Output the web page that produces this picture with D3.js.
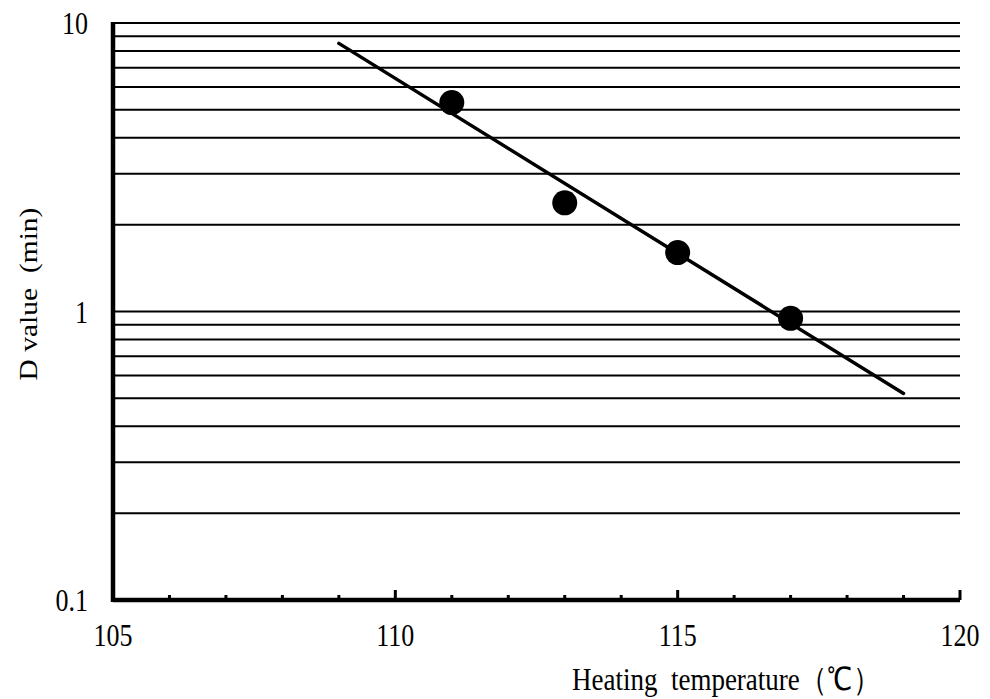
<!DOCTYPE html>
<html>
<head>
<meta charset="utf-8">
<script src="https://cdn.jsdelivr.net/npm/d3@7"></script>
<style>
  body { margin: 0; background: #fff; }
  text { font-family: "Liberation Serif", "Times New Roman", serif; fill: #000; }
</style>
</head>
<body>
<svg id="chart"></svg>
<script>
// 数据：加热温度 与 D 值
var temps = [111, 113, 115, 117];
var dValues = [5.3, 2.38, 1.6, 0.947];
// 回归直线两端
var fitTemps = [109, 119];
var fitValues = [8.5, 0.52];
// 坐标轴刻度
var xLabels = [105, 110, 115, 120];
var yLabels = [0.1, 1, 10];

var width = 990, height = 699;
var margin = { left: 113, right: 30, top: 23, bottom: 99 };
var stretch = 1.18; // 原图文字竖向略拉长

var svg = d3.select("#chart")
    .attr("width", width)
    .attr("height", height);

var x = d3.scaleLinear()
    .domain([105, 120])
    .range([margin.left, width - margin.right]);

var y = d3.scaleLog()
    .domain([0.1, 10])
    .range([height - margin.bottom, margin.top]);

// 水平网格线
svg.append("g")
  .selectAll("line")
  .data(y.ticks().filter(function(d) { return d > 0.1; }))
  .enter().append("line")
  .attr("x1", x(105))
  .attr("x2", x(120))
  .attr("y1", function(d) { return y(d); })
  .attr("y2", function(d) { return y(d); })
  .attr("stroke", "#000")
  .attr("stroke-width", 2);

// x 轴刻度（每 1℃ 一个小刻度，每 5℃ 一个大刻度）
svg.append("g")
  .selectAll("line")
  .data(d3.range(106, 121))
  .enter().append("line")
  .attr("x1", function(d) { return x(d); })
  .attr("x2", function(d) { return x(d); })
  .attr("y1", y(0.1))
  .attr("y2", function(d) { return y(0.1) - (d % 5 === 0 ? 10 : 5); })
  .attr("stroke", "#000")
  .attr("stroke-width", 3);

// 坐标轴线
svg.append("line")
  .attr("x1", x(105)).attr("x2", x(120))
  .attr("y1", y(0.1)).attr("y2", y(0.1))
  .attr("stroke", "#000").attr("stroke-width", 4.5);

svg.append("line")
  .attr("x1", x(105)).attr("x2", x(105))
  .attr("y1", y(0.1) + 2).attr("y2", y(10) - 1)
  .attr("stroke", "#000").attr("stroke-width", 4.5);

// 刻度标签
svg.append("g")
  .selectAll("text")
  .data(yLabels)
  .enter().append("text")
  .attr("transform", function(d) { return "translate(88," + (y(d) + 11) + ") scale(1," + stretch + ")"; })
  .attr("text-anchor", "end")
  .style("font-size", "26px")
  .text(function(d) { return d; });

svg.append("g")
  .selectAll("text")
  .data(xLabels)
  .enter().append("text")
  .attr("transform", function(d) { return "translate(" + x(d) + ",646) scale(1," + stretch + ")"; })
  .attr("text-anchor", "middle")
  .style("font-size", "26px")
  .text(function(d) { return d; });

// 轴标题
svg.append("text")
  .attr("transform", "translate(572,690) scale(1," + stretch + ")")
  .attr("text-anchor", "start")
  .style("font-size", "27px")
  .style("white-space", "pre")
  .text("Heating  temperature（℃）");

svg.append("text")
  .attr("transform", "translate(37,294) rotate(-90) scale(" + stretch + ",1)")
  .attr("text-anchor", "middle")
  .style("font-size", "25px")
  .style("white-space", "pre")
  .text("D value  (min)");

// 回归直线
var line = d3.line()
    .x(function(d) { return x(d[0]); })
    .y(function(d) { return y(d[1]); });

svg.append("path")
  .datum(d3.zip(fitTemps, fitValues))
  .attr("d", line)
  .attr("fill", "none")
  .attr("stroke", "#000")
  .attr("stroke-width", 3.5)
  .attr("stroke-linecap", "round");

// 实测点
svg.append("g")
  .selectAll("circle")
  .data(d3.zip(temps, dValues))
  .enter().append("circle")
  .attr("cx", function(d) { return x(d[0]); })
  .attr("cy", function(d) { return y(d[1]); })
  .attr("r", 12.5)
  .attr("fill", "#000");
</script>
</body>
</html>
